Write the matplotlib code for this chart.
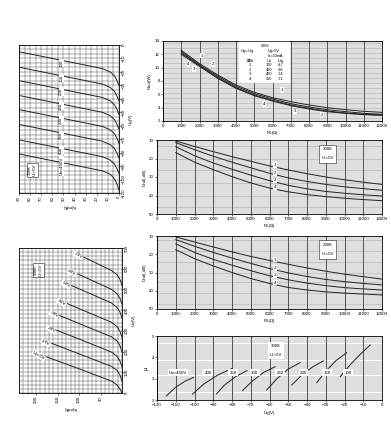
import matplotlib
matplotlib.use('Agg')
import matplotlib.pyplot as plt
from matplotlib.ticker import MultipleLocator

plt.rcParams['font.family'] = ['Liberation Sans', 'Noto Sans CJK SC', 'DejaVu Sans']
plt.rcParams['axes.linewidth'] = 0.6

# ---------------- data ----------------
# top-left (rotated chart): Ia (mA) horizontal, Ug (V) vertical
tl_x = [90, 60, 30, 15, 8, 4, 1.5, 0]
tl_curves = [
    [-5, -10, -15, -17.5, -20, -23, -27, -30],
    [-16.5, -21.5, -26.5, -29, -31.5, -34.5, -38.5, -41.5],
    [-26.5, -31.5, -36.5, -39, -41.5, -44.5, -48.5, -51.5],
    [-37.5, -42.5, -47.5, -50, -52.5, -55.5, -59.5, -62.5],
    [-48, -53, -58, -60.5, -63, -66, -70, -73],
    [-59, -64, -69, -71.5, -74, -77, -81, -84],
    [-70.5, -75.5, -80.5, -83, -85.5, -88.5, -92.5, -95.5],
    [-81, -86, -91, -93.5, -96, -99.5, -104, -108],
]
tl_labels = ['100', '150', '200', '250', '300', '350', '400', 'Ua=450V']
tl_label_y = [-13.5, -24.5, -34.5, -45.5, -56, -67, -78, -90]
tl_xticks = [90, 80, 70, 60, 50, 40, 30, 20, 10, 0]
tl_yticks = [0, -10, -20, -30, -40, -50, -60, -70, -80, -90, -100, -110]

# bottom-left (rotated chart): Ia (mA) horizontal, Ua (V) vertical
bl_curves_x = [
    [109, 67, 25, 12, 5, 0],
    [123, 74, 25, 12, 5, 0],
    [137, 81, 25, 12, 5, 0],
    [147, 86, 25, 12, 5, 0],
    [165, 95, 25, 12, 5, 0],
    [172, 98, 25, 12, 5, 0],
    [184, 104, 25, 12, 5, 0],
    [200, 112, 25, 12, 5, 0],
]
bl_curves_y = [
    [676, 634, 592, 572, 550, 520],
    [594, 547, 501, 480, 458, 430],
    [536, 486, 435, 414, 392, 362],
    [449, 395, 342, 321, 299, 270],
    [391, 331, 272, 252, 230, 200],
    [319, 259, 198, 178, 156, 126],
    [256, 192, 129, 110, 88, 58],
    [193, 126, 58, 40, 20, 0],
]
bl_labels = ['-70V', '-60V', '-50V', '-40V', '-30V', '-20V', '-10V', 'Ug=0V']
bl_xticks = [200, 150, 100, 50]
bl_yticks = [0, 100, 200, 300, 400, 500, 600, 700]

# right panel 1: output power vs load
rl = [1000, 2000, 3000, 4000, 5000, 6000, 7000, 8000, 9000, 10000, 11000, 12000]
p_out = [
    [12.6, 10.6, 8.9, 7.4, 6.3, 5.5, 4.9, 4.4, 4.0, 3.7, 3.45, 3.3],
    [12.4, 10.4, 8.7, 7.2, 6.1, 5.3, 4.6, 4.1, 3.7, 3.4, 3.15, 3.0],
    [12.2, 10.3, 8.5, 7.0, 5.9, 5.1, 4.4, 3.9, 3.5, 3.2, 3.0, 2.9],
    [12.0, 10.2, 8.4, 6.9, 5.8, 5.0, 4.3, 3.8, 3.4, 3.15, 2.95, 2.85],
]
p1_table = [('1', '300', '-87'), ('2', '400', '-96'), ('3', '450', '-74'), ('4', '350', '-71')]

# right panels 2 and 3: distortion vs load
dist_a = [
    [10.5, 13.5, 16.3, 19.0, 21.5, 24.0, 26.2, 28.2, 30.0, 31.5, 32.8, 34.0],
    [11.4, 15.2, 18.8, 22.0, 25.0, 28.0, 30.5, 32.4, 34.0, 35.3, 36.3, 37.2],
    [13.6, 18.5, 22.4, 25.8, 29.0, 32.0, 34.5, 36.4, 37.8, 38.8, 39.6, 40.3],
    [16.8, 22.0, 26.0, 29.8, 33.2, 36.0, 38.0, 39.5, 40.6, 41.5, 42.2, 42.8],
]
dist_b = [
    [10.5, 13.3, 16.0, 18.7, 21.2, 23.4, 25.5, 27.5, 29.3, 30.9, 32.3, 33.6],
    [12.0, 15.6, 19.0, 22.1, 25.0, 27.8, 30.2, 32.2, 33.8, 35.0, 36.0, 36.8],
    [14.3, 19.0, 22.8, 26.0, 29.0, 31.8, 34.0, 35.8, 37.2, 38.3, 39.0, 39.6],
    [17.5, 22.4, 26.4, 30.0, 33.3, 36.0, 38.2, 39.6, 40.6, 41.3, 41.8, 42.3],
]
curve_names = ['1', '2', '3', '4']

# right panel 4: mu vs Ug
mu_labels = ['Ua=450V', '400', '350', '300', '250', '200', '150', '100']
mu_x = [
    [-115, -110, -105, -100.5],
    [-101, -95, -88, -80],
    [-88.3, -84, -78, -72],
    [-74.4, -69, -63, -57],
    [-61.5, -56, -50, -43.7],
    [-48.2, -43, -37, -31.2],
    [-34.8, -30, -24.5, -18.8],
    [-22.3, -17, -11.5, -6.3],
]
mu_y = [
    [2.19, 2.6, 2.88, 3.06],
    [2.28, 2.75, 3.15, 3.48],
    [2.28, 2.7, 3.1, 3.38],
    [2.44, 2.9, 3.3, 3.56],
    [2.47, 3.0, 3.45, 3.75],
    [2.7, 3.15, 3.55, 3.84],
    [2.81, 3.35, 3.85, 4.22],
    [3.09, 3.65, 4.15, 4.58],
]
mu_label_x = [-108.8, -92.7, -79.4, -67.8, -54.4, -41.9, -29.4, -17.9]

# ---------------- figure ----------------
W, H = 391, 429
fig = plt.figure(figsize=(W / 100, H / 100), dpi=100)


def px_axes(x0, y0, x1, y1):
    return fig.add_axes([x0 / W, 1 - y1 / H, (x1 - x0) / W, (y1 - y0) / H])


FS = 3.2
LC = '#222222'
box = dict(boxstyle='square,pad=0.15', fc='white', ec='none')

# ---- top-left ----
ax = px_axes(19, 45, 119, 193)
ax.set_xlim(90, 0)
ax.set_ylim(-110, 0)
ax.set_xticks(tl_xticks)
ax.set_yticks(tl_yticks)
ax.xaxis.set_minor_locator(MultipleLocator(5))
ax.yaxis.set_minor_locator(MultipleLocator(10 / 3))
ax.grid(which='both', color='#555555', lw=0.35)
ax.yaxis.tick_right()
ax.yaxis.set_label_position('right')
ax.tick_params(which='both', labelsize=FS, length=1.2, width=0.4, pad=1)
ax.tick_params(which='minor', length=0)
plt.setp(ax.get_xticklabels(), rotation=90)
plt.setp(ax.get_yticklabels(), rotation=90, va='center')
for ys in tl_curves:
    ax.plot(tl_x, ys, color=LC, lw=0.7)
for lab, ly in zip(tl_labels, tl_label_y):
    ax.text(52, ly, lab, rotation=90, fontsize=FS, ha='center', va='center', bbox=box)
ax.text(78, -93, '3008\nUr=5V', rotation=90, fontsize=FS, ha='center', va='center',
        bbox=dict(boxstyle='square,pad=0.2', fc='white', ec='#222222', lw=0.4))
ax.set_ylabel('Ug(V)', fontsize=FS, rotation=90, labelpad=2)
ax.set_xlabel('Ia(mA)', fontsize=FS, rotation=180, labelpad=2)

# ---- bottom-left ----
ax = px_axes(19, 248, 122, 393)
ax.set_xlim(240, 0)
ax.set_ylim(0, 700)
ax.set_xticks(bl_xticks)
ax.set_yticks(bl_yticks)
ax.xaxis.set_minor_locator(MultipleLocator(10))
ax.yaxis.set_minor_locator(MultipleLocator(20))
ax.grid(which='both', color='#555555', lw=0.35)
ax.yaxis.tick_right()
ax.yaxis.set_label_position('right')
ax.tick_params(which='both', labelsize=FS, length=1.2, width=0.4, pad=1)
ax.tick_params(which='minor', length=0)
plt.setp(ax.get_xticklabels(), rotation=90)
plt.setp(ax.get_yticklabels(), rotation=90, va='center')
for xs, ys, lab in zip(bl_curves_x, bl_curves_y, bl_labels):
    ax.plot(xs, ys, color=LC, lw=0.7)
    ax.text(xs[0] - 6, ys[0] - 12, lab, rotation=-30, fontsize=FS, ha='center',
            va='center', bbox=box)
ax.text(195, 594, '3008\nUr=5V', rotation=90, fontsize=FS, ha='center', va='center',
        bbox=dict(boxstyle='square,pad=0.2', fc='white', ec='#222222', lw=0.4))
ax.set_ylabel('Ua(V)', fontsize=FS, rotation=90, labelpad=2)
ax.set_xlabel('Ia(mA)', fontsize=FS, rotation=180, labelpad=2)


def style_right(ax, ylo, yhi, yticks, yminor, xlo, xhi, xticks):
    ax.set_xlim(xlo, xhi)
    ax.set_ylim(ylo, yhi)
    ax.set_xticks(xticks)
    ax.set_yticks(yticks)
    ax.yaxis.set_minor_locator(MultipleLocator(yminor))
    ax.grid(axis='x', which='major', color='#333333', lw=0.6)
    ax.grid(axis='y', which='both', color='#666666', lw=0.3)
    ax.set_axisbelow(True)
    ax.tick_params(which='both', labelsize=FS, length=1.2, width=0.4, pad=1)
    ax.tick_params(which='minor', length=0)


xt = list(range(0, 12001, 1000))

# ---- right panel 1 ----
ax = px_axes(163, 41, 382, 121)
style_right(ax, 2, 14, [2, 4, 6, 8, 10, 12, 14], 0.25, 0, 12000, xt)
for ys in p_out:
    ax.plot(rl, ys, color=LC, lw=0.7)
for (tx, ty, t) in [(2140, 11.8, '1'), (2740, 10.55, '2'), (1400, 10.55, '4'),
                    (1680, 9.8, '3'), (6520, 6.66, '1'), (5550, 4.53, '4'),
                    (7250, 3.47, '3'), (8710, 2.96, '2')]:
    ax.text(tx, ty, t, fontsize=FS, ha='center', va='center', bbox=box)
FT = 2.8
ax.fill_between([4150, 6900], 7.8, 13.8, color='white', zorder=3)
ax.text(5600, 13.3, '3008', fontsize=FT, ha='center', va='center', zorder=4)
ax.text(4250, 12.5, 'Ug=-Ug', fontsize=FT, ha='left', va='center', zorder=4)
ax.text(5750, 12.5, 'Ug=5V', fontsize=FT, ha='left', va='center', zorder=4)
ax.text(5750, 11.8, 'Ia=30mA', fontsize=FT, ha='left', va='center', zorder=4)
ax.text(4750, 11.05, '曲线', fontsize=FT - 0.3, ha='center', va='center', zorder=4)
ax.text(5800, 11.05, 'Ua', fontsize=FT, ha='center', va='center', zorder=4)
ax.text(6450, 11.05, '-Ug', fontsize=FT, ha='center', va='center', zorder=4)
for i, (n, ua, ug) in enumerate(p1_table):
    yy = 10.35 - 0.68 * i
    ax.text(4750, yy, n, fontsize=FT, ha='center', va='center', zorder=4)
    ax.text(5800, yy, ua, fontsize=FT, ha='center', va='center', zorder=4)
    ax.text(6450, yy, ug, fontsize=FT, ha='center', va='center', zorder=4)
ax.set_ylabel('Pout(W)', fontsize=FS, labelpad=2)
ax.set_xlabel('R$_L$(Ω)', fontsize=FS, labelpad=1)


def dist_panel(y0, y1, data):
    ax = px_axes(157, y0, 382, y1)
    style_right(ax, 50, 10, [10, 20, 30, 40, 50], 1, 0, 12000, xt)
    for ys, nm in zip(data, curve_names):
        ax.plot(rl, ys, color=LC, lw=0.7)
        ax.text(6300, (ys[5] + ys[6]) / 2 - 1.5, nm, fontsize=FS, ha='center',
                va='center', bbox=box)
    ax.text(9100, 17.5, '3008\n\nUr=5V', fontsize=FS, ha='center', va='center',
            bbox=dict(boxstyle='square,pad=0.6', fc='white', ec='#222222', lw=0.4))
    ax.set_ylabel('Dnd(-dB)', fontsize=FS, labelpad=2)
    ax.set_xlabel('R$_L$(Ω)', fontsize=FS, labelpad=1)
    return ax


dist_panel(140, 214, dist_a)
dist_panel(236, 309, dist_b)

# ---- right panel 4 ----
ax = px_axes(157, 336, 382, 400)
style_right(ax, 2, 5, [2, 3, 4, 5], 0.1, -120, 0, list(range(-120, 1, 10)))
for xs, ys in zip(mu_x, mu_y):
    ax.plot(xs, ys, color=LC, lw=0.7)
for lx, lab in zip(mu_label_x, mu_labels):
    ax.text(lx, 3.28, lab, fontsize=FS, ha='center', va='center',
            bbox=dict(boxstyle='square,pad=0.3', fc='white', ec='none'))
ax.text(-56.5, 4.32, '3008\n\nUr=5V', fontsize=FS, ha='center', va='center',
        bbox=dict(boxstyle='square,pad=0.5', fc='white', ec='none'))
ax.set_ylabel('μ', fontsize=FS + 1, labelpad=2)
ax.set_xlabel('Ug(V)', fontsize=FS, labelpad=3)

fig.savefig('out.png', dpi=100)
